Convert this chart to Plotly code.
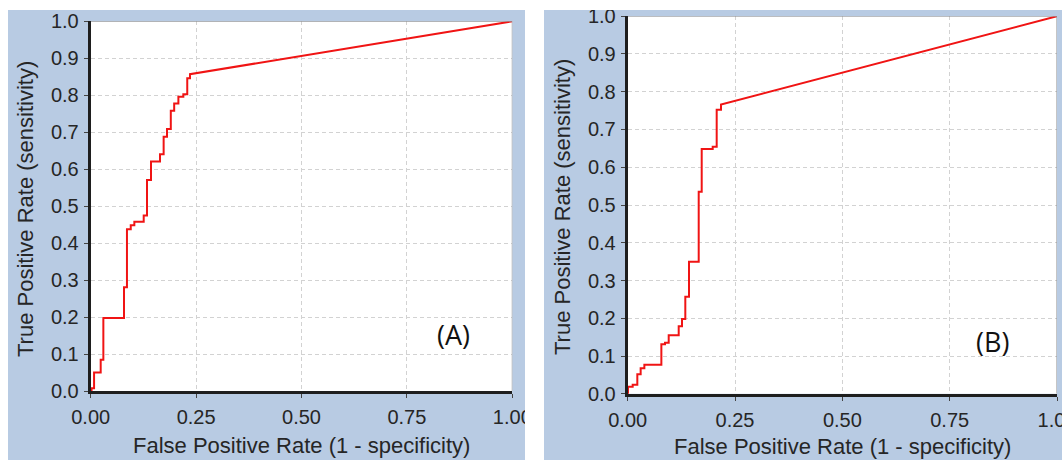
import plotly.graph_objects as go

W, H = 1062, 460

# ROC curve (A): false positive rate where each step rises, and the true positive rate reached
fpr_a = [0.002, 0.008, 0.0237, 0.030, 0.079, 0.086, 0.095, 0.1035, 0.1257, 0.1335,
         0.143, 0.1644, 0.173, 0.181, 0.190, 0.198, 0.208, 0.2197, 0.229, 0.2355]
tpr_a = [0.008, 0.051, 0.085, 0.198, 0.281, 0.438, 0.449, 0.458, 0.475, 0.571,
         0.621, 0.641, 0.688, 0.709, 0.758, 0.778, 0.796, 0.803, 0.846, 0.857]

# ROC curve (B)
fpr_b = [0.0007, 0.0116, 0.0224, 0.0302, 0.0388, 0.0784, 0.0869, 0.0955, 0.1188,
         0.1265, 0.1342, 0.1428, 0.1654, 0.1724, 0.198, 0.2073, 0.2173]
tpr_b = [0.019, 0.024, 0.052, 0.0675, 0.077, 0.131, 0.135, 0.155, 0.179,
         0.198, 0.257, 0.350, 0.535, 0.648, 0.654, 0.752, 0.766]

x_ticks = [0, 0.25, 0.5, 0.75, 1.0]
x_title = "False Positive Rate (1 - specificity)"
y_title = "True Positive Rate (sensitivity)"
panel_labels = ["(A)", "(B)"]


def roc_path(fpr, tpr):
    """Expand rise points into a step path, closing with a straight run to (1, 1)."""
    xs, ys = [0.0], [0.0]
    for x, y in zip(fpr, tpr):
        xs += [x, x]
        ys += [ys[-1], y]
    xs.append(1.0)
    ys.append(1.0)
    return xs, ys


def px(x):
    return x / W


def py(y):
    return 1 - y / H


PANEL_BLUE = "#B8CBE3"
FONT = "Liberation Sans, Arial, sans-serif"
TEXT = "#262626"

fig = go.Figure()
xa, ya = roc_path(fpr_a, tpr_a)
xb, yb = roc_path(fpr_b, tpr_b)
fig.add_trace(go.Scatter(x=xa, y=ya, mode="lines", line=dict(color="#F01414", width=2),
                         xaxis="x", yaxis="y", showlegend=False, hoverinfo="skip"))
fig.add_trace(go.Scatter(x=xb, y=yb, mode="lines", line=dict(color="#F01414", width=2),
                         xaxis="x2", yaxis="y2", showlegend=False, hoverinfo="skip"))

# plot-area pixel boxes: (left, right, top, bottom)
box_a = (90.7, 512.3, 21.3, 391.3)
box_b = (627.7, 1057.0, 16.2, 393.8)

common = dict(range=[0, 1], showgrid=True, automargin=False, ticklabeloverflow="allow",
              gridcolor="#D2D2D2", griddash="4px,3px", gridwidth=1, zeroline=False,
              showline=True, linecolor="#1E1E1E", linewidth=3, ticks="outside",
              ticklen=4, tickcolor="#444444", tickwidth=1,
              tickfont=dict(family=FONT, size=20, color=TEXT))
common_x = dict(tickvals=x_ticks, tickformat=".2f", ticklabelstandoff=2, **common)
common_y = dict(dtick=0.1, tick0=0, tickformat=".1f", ticklabelstandoff=1, **common)

fig.update_layout(
    width=W, height=H, margin=dict(l=0, r=0, t=0, b=0, autoexpand=False),
    paper_bgcolor=PANEL_BLUE, plot_bgcolor="white",
    xaxis=dict(domain=[px(box_a[0]), px(box_a[1])], anchor="y", **common_x),
    yaxis=dict(domain=[py(box_a[3]), py(box_a[2])], anchor="x", **common_y),
    xaxis2=dict(domain=[px(box_b[0]), px(box_b[1])], anchor="y2", **common_x),
    yaxis2=dict(domain=[py(box_b[3]), py(box_b[2])], anchor="x2", **common_y),
)

shapes = []
# thin outline along the top and right of each plot area
for xr, yr in (("x", "y"), ("x2", "y2")):
    shapes.append(dict(type="line", xref=xr, yref=yr, x0=0, x1=1, y0=1, y1=1,
                       line=dict(color="#8A8A8A", width=1)))
    shapes.append(dict(type="line", xref=xr, yref=yr, x0=1, x1=1, y0=0, y1=1,
                       line=dict(color="#8A8A8A", width=1)))
# white surround that frames the two blue panels
for x0, x1, y0, y1 in ((0, 8, 0, H), (525, 544, 0, H), (0, W, 0, 10)):
    shapes.append(dict(type="rect", xref="paper", yref="paper", layer="above",
                       x0=px(x0), x1=px(x1), y0=py(y1), y1=py(y0),
                       fillcolor="white", line=dict(width=0)))
fig.update_layout(shapes=shapes)

annotations = []
for cx, cy in ((301.5, 445), (842.3, 446)):
    annotations.append(dict(text=x_title, x=px(cx), y=py(cy), xref="paper", yref="paper",
                            showarrow=False, xanchor="center", yanchor="middle",
                            font=dict(family=FONT, size=22, color=TEXT)))
for cx, cy in ((26, 209), (563, 207)):
    annotations.append(dict(text=y_title, x=px(cx), y=py(cy), xref="paper", yref="paper",
                            showarrow=False, xanchor="center", yanchor="middle", textangle=-90,
                            font=dict(family=FONT, size=22, color=TEXT)))
for label, (cx, cy) in zip(panel_labels, ((453.5, 334), (992, 341))):
    annotations.append(dict(text=label, x=px(cx), y=py(cy), xref="paper", yref="paper",
                            showarrow=False, xanchor="center", yanchor="middle",
                            font=dict(family="Open Sans, Lato, sans-serif", size=27,
                                      color="#111111")))
fig.update_layout(annotations=annotations)

fig.write_html("out.html")
